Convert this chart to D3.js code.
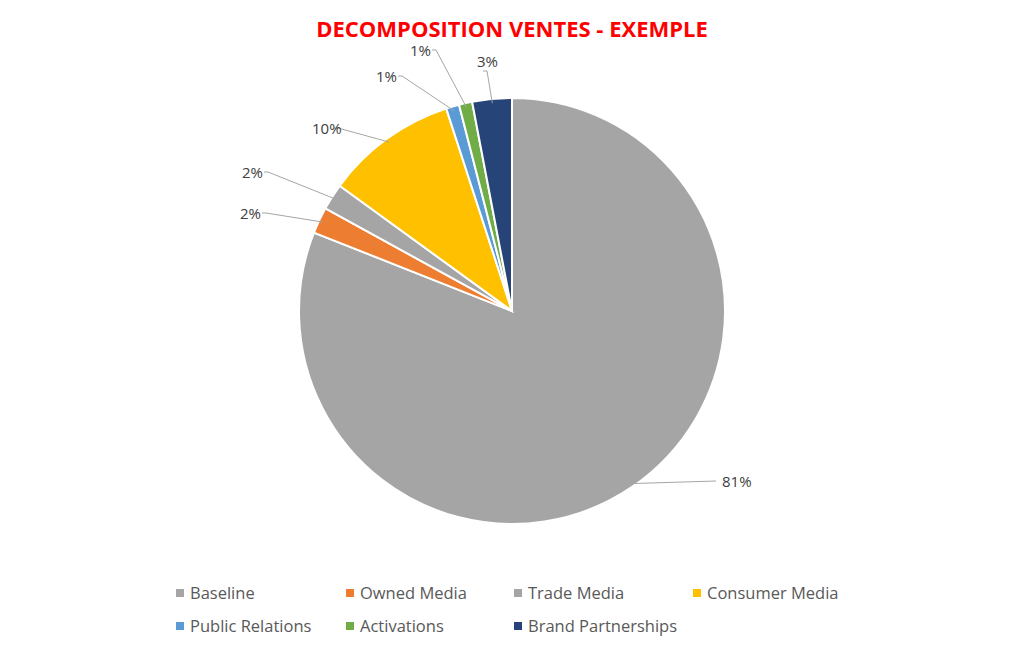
<!DOCTYPE html>
<html><head><meta charset="utf-8">
<script src="https://cdn.jsdelivr.net/npm/d3@7/dist/d3.min.js"></script>
<style>body{margin:0;background:#fff}</style></head>
<body><svg id="c" width="1024" height="650"></svg>
<script>
const categories=["Baseline","Owned Media","Trade Media","Consumer Media","Public Relations","Activations","Brand Partnerships"];
const values=[81,2,2,10,1,1,3];
const colors=["#A5A5A5","#ED7D31","#A5A5A5","#FFC000","#5B9BD5","#70AD47","#264478"];
// label anchor positions (layout)
const labelPos=[[722,487],[240,219],[242,178],[312,134],[376,82],[410,56],[477,67]];
const legendPos=[[180,593],[350,593],[518,593],[697,593],[180,626],[350,626],[518,626]];

const svg=d3.select("#c");
const font="'Open Sans', 'Liberation Sans', sans-serif";
svg.append("text").attr("x",512).attr("y",37).attr("text-anchor","middle")
 .attr("fill","#FF0000").attr("font-family",font).attr("font-weight","bold").attr("font-size",22).text("DECOMPOSITION VENTES - EXEMPLE");
const cx=512,cy=311,r=213;
const pie=d3.pie().sort(null).value(d=>d)(values);
const arc=d3.arc().innerRadius(0).outerRadius(r);
const g=svg.append("g").attr("transform",`translate(${cx},${cy})`);
g.selectAll("path").data(pie).join("path").attr("d",arc)
 .attr("fill",(d,i)=>colors[i]).attr("stroke","#fff").attr("stroke-width",2);
const edge=d3.arc().innerRadius(r*0.98).outerRadius(r*0.98);
pie.forEach((d,i)=>{
  const [ex,ey]=edge.centroid(d);
  const [lx,ly]=labelPos[i];
  const right=lx>cx+50;
  const tx= right? lx-6 : (i==6? lx+10 : lx+26);
  const ty= i==6? ly+4 : ly-6;
  svg.append("polyline").attr("points",`${cx+ex},${cy+ey} ${tx},${ty} ${right?tx:tx-4},${ty}`)
   .attr("fill","none").attr("stroke","#A6A6A6").attr("stroke-width",1);
  svg.append("text").attr("x",lx).attr("y",ly).attr("font-family",font).attr("font-size",15)
   .attr("fill","#404040").text(values[i]+"%");
});
categories.forEach((c,i)=>{
  const [x,y]=legendPos[i];
  svg.append("rect").attr("x",x-4).attr("y",y-4).attr("width",8).attr("height",8).attr("fill",colors[i]);
  svg.append("text").attr("x",x+10).attr("y",y+6).attr("font-family",font).attr("font-size",16.5).attr("fill","#595959").text(c);
});
</script></body></html>
